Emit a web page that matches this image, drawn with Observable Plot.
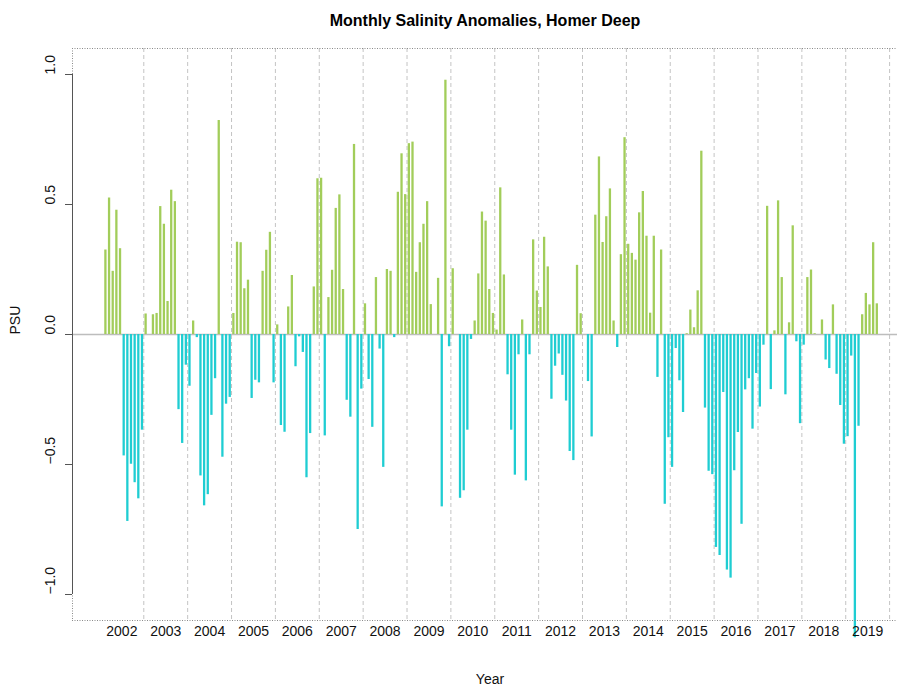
<!DOCTYPE html>
<html>
<head>
<meta charset="utf-8">
<script src="https://cdn.jsdelivr.net/npm/d3@7"></script>
<script src="https://cdn.jsdelivr.net/npm/@observablehq/plot@0.6"></script>
<style>
  html, body { margin: 0; padding: 0; background: #fff; overflow: hidden; }
  svg { display: block; }
</style>
</head>
<body>
<div id="chart"></div>
<script>
// Monthly salinity anomalies (PSU), Jan..Dec per year; null = no data
const years = [2002, 2003, 2004, 2005, 2006, 2007, 2008, 2009, 2010, 2011, 2012, 2013, 2014, 2015, 2016, 2017, 2018, 2019];
const s2002 = [null, 0.325, 0.525, 0.243, 0.478, 0.33, -0.467, -0.719, -0.499, -0.57, -0.632, -0.368];
const s2003 = [0.079, null, 0.076, 0.081, 0.492, 0.424, 0.127, 0.555, 0.511, -0.289, -0.419, -0.118];
const s2004 = [-0.199, 0.052, -0.012, -0.544, -0.659, -0.616, -0.311, -0.17, 0.823, -0.472, -0.268, -0.242];
const s2005 = [0.081, 0.355, 0.353, 0.176, 0.209, -0.246, -0.176, -0.186, 0.243, 0.324, 0.393, -0.186];
const s2006 = [0.037, -0.35, -0.376, 0.106, 0.227, -0.124, -0.009, -0.069, -0.551, -0.381, 0.183, 0.599];
const s2007 = [0.601, -0.39, 0.142, 0.247, 0.485, 0.537, 0.173, -0.253, -0.318, 0.731, -0.75, -0.21];
const s2008 = [0.118, -0.173, -0.357, 0.219, -0.056, -0.511, 0.25, 0.243, -0.012, 0.547, 0.695, 0.538];
const s2009 = [0.734, 0.74, 0.239, 0.353, 0.424, 0.511, 0.115, null, 0.216, -0.663, 0.978, -0.047];
const s2010 = [0.253, null, -0.63, -0.601, -0.368, -0.019, 0.052, 0.233, 0.471, 0.436, 0.173, 0.081];
const s2011 = [0.017, 0.564, 0.229, -0.155, -0.368, -0.541, -0.078, 0.056, -0.563, -0.078, 0.364, 0.167];
const s2012 = [0.104, 0.374, 0.26, -0.249, -0.122, -0.075, -0.157, -0.256, -0.45, -0.485, 0.266, 0.08];
const s2013 = [null, -0.181, -0.394, 0.459, 0.683, 0.354, 0.453, 0.56, 0.052, -0.05, 0.307, 0.757];
const s2014 = [0.347, 0.312, 0.286, 0.468, 0.55, 0.378, 0.082, 0.378, -0.165, 0.325, -0.653, -0.397];
const s2015 = [-0.511, -0.054, -0.178, -0.30, 0.003, 0.094, 0.026, 0.168, 0.705, -0.283, -0.526, -0.539];
const s2016 = [-0.819, -0.85, -0.223, -0.906, -0.937, -0.524, -0.377, -0.73, -0.213, -0.17, -0.364, -0.15];
const s2017 = [-0.279, -0.041, 0.493, -0.212, 0.014, 0.514, 0.219, -0.232, 0.045, 0.418, -0.028, -0.343];
const s2018 = [-0.041, 0.219, 0.248, 0.003, null, 0.056, -0.098, -0.131, 0.114, -0.153, -0.273, -0.422];
const s2019 = [-0.393, -0.083, -1.166, -0.353, 0.076, 0.158, 0.114, 0.353, 0.118, null, null, null];
const series = [s2002, s2003, s2004, s2005, s2006, s2007, s2008, s2009, s2010, s2011, s2012, s2013, s2014, s2015, s2016, s2017, s2018, s2019];

const yTicks = [-1, -0.5, 0, 0.5, 1];
const gridYears = [2003, 2004, 2005, 2006, 2007, 2008, 2009, 2010, 2011, 2012, 2013, 2014, 2015, 2016, 2017, 2018, 2019, 2020];
const xDomain = [2001.375, 2020.18];
const yDomain = [-1.1, 1.1];

const titleText = "Monthly Salinity Anomalies, Homer Deep";
const xLabel = "Year";
const yLabel = "PSU";

const green = "#A2CD5A";
const cyan = "#1FCDD2";

const data = [];
series.forEach((arr, i) => {
  arr.forEach((v, m) => {
    if (v !== null) data.push({t: years[i] + (m + 0.5) / 12, v});
  });
});

const fmt = d => (d < 0 ? "\u2212" : "") + Math.abs(d).toFixed(1);
const font = "'Liberation Sans', Arial, Helvetica, sans-serif";

const chart = Plot.plot({
  width: 897,
  height: 691,
  marginLeft: 72,
  marginRight: 0,
  marginTop: 48,
  marginBottom: 71,
  style: {fontFamily: font, fontSize: "14px", color: "#111", background: "#fff"},
  x: {type: "linear", domain: xDomain},
  y: {domain: yDomain},
  marks: [
    // year boundary dashed grid
    Plot.ruleX(gridYears, {stroke: "#c4c4c4", strokeDasharray: "4,3", strokeWidth: 1}),
    // zero line
    Plot.ruleY([0], {stroke: "#bdbdbd", strokeWidth: 1.6}),
    // bars
    Plot.ruleX(data, {x: "t", y1: 0, y2: "v", stroke: d => d.v >= 0 ? green : cyan, strokeWidth: 2.3}),
    // dotted box (top, bottom, left)
    Plot.ruleY(yDomain, {stroke: "#8a8a8a", strokeDasharray: "1,1.5", strokeWidth: 1}),
    Plot.ruleX([xDomain[0]], {stroke: "#8a8a8a", strokeDasharray: "1,1.5", strokeWidth: 1}),
    // y axis line and ticks
    Plot.ruleX([xDomain[0]], {y1: yTicks[0], y2: yTicks[yTicks.length - 1], stroke: "#555", strokeWidth: 1}),
    Plot.axisY({ticks: yTicks, tickSize: 7, tickFormat: () => "", stroke: "#555", label: null}),
    Plot.text(yTicks, {y: d => d, frameAnchor: "left", dx: -22, rotate: -90, text: fmt, fontSize: 14, fill: "#111"}),
    // x axis labels (year centers)
    Plot.axisX({ticks: years.map(y => y + 0.5), tickFormat: d => String(Math.floor(d)), tickSize: 0, tickPadding: 6, fontSize: 14, label: null, fill: "#111"}),
    // titles
    Plot.text([titleText], {frameAnchor: "top", dy: -34, fontWeight: "bold", fontSize: 16, fill: "#000"}),
    Plot.text([xLabel], {frameAnchor: "bottom", dy: 63, dx: 5, fontSize: 14, fill: "#111"}),
    Plot.text([yLabel], {frameAnchor: "left", dx: -57, rotate: -90, fontSize: 14, fill: "#111"})
  ]
});
document.getElementById("chart").appendChild(chart);
</script>
</body>
</html>
